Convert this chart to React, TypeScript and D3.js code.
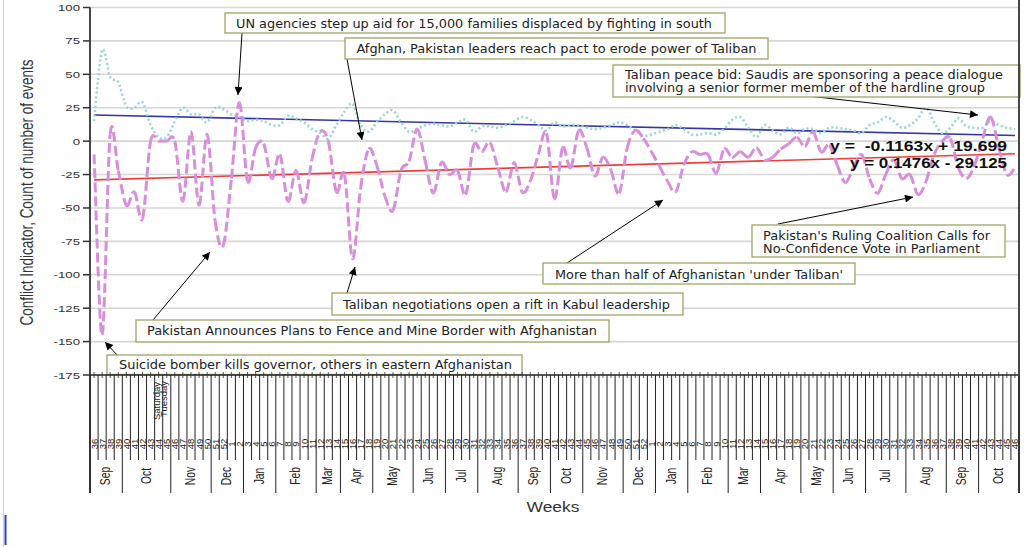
import React from 'react';
import * as d3 from 'd3';

// ---------- data ----------
const months = ['Sep','Oct','Nov','Dec','Jan','Feb','Mar','Apr','May','Jun','Jul','Aug','Sep','Oct','Nov','Dec','Jan','Feb','Mar','Apr','May','Jun','Jul','Aug','Sep','Oct'];
const monthWeeks = [4,6,5,4,4,5,3,4,5,4,4,5,4,4,5,4,4,5,4,5,4,4,5,5,4,5];
const weekLabels: string[] = [...d3.range(36, 53), ...d3.range(1, 53), ...d3.range(1, 47)].map(String);

// Conflict indicator (magenta dashed)
const conflictIndicator = [
  -10,-145,5,-22,-48,-38,-58,0,0,0,
  0,-45,7,-48,5,-60,-78,-28,29,-30,
  -5,-2,-28,-10,-45,-22,-46,-13,7,0,
  -38,-25,-88,-35,-6,-18,-41,-52,-22,-15,
  9,-15,-39,-16,-25,-22,-40,-3,-8,-1,
  -20,-38,-16,-38,-30,-10,6,-43,-5,-20,
  8,-5,-26,-12,-22,-39,-5,8,2,-8,
  -19,-30,-38,-18,-8,-10,-10,-24,-6,-12,
  -8,-12,-5,-14,-12,-6,-2,3,-4,7,
  -8,-3,-18,-31,-20,-10,-28,-39,-25,-14,
  -28,-25,-40,-30,-10,0,2,-20,-28,-18,
  2,18,-5,-25,-20,
];

// Count of number of events (cyan dotted)
const eventCount = [
  15,68,48,44,26,25,29,12,3,3,
  15,25,20,20,14,25,24,20,18,15,
  16,15,12,12,19,17,14,9,6,2,
  12,22,28,12,7,14,20,23,14,7,
  9,12,13,12,11,14,16,7,11,11,
  10,12,15,18,16,12,8,14,11,12,
  12,10,9,10,12,14,12,8,4,5,
  7,9,12,9,5,5,6,5,9,16,
  18,10,3,12,8,5,10,6,9,9,
  6,10,10,9,8,6,12,14,18,15,
  10,12,17,25,14,6,10,17,11,10,
  10,15,12,10,9,
];

const yTicks = [100, 75, 50, 25, 0, -25, -50, -75, -100, -125, -150, -175];
const trendEvents = { slope: -0.1163, intercept: 19.699, label: 'y =  -0.1163x + 19.699' };
const trendConflict = { slope: 0.1476, intercept: -29.125, label: 'y = 0.1476x - 29.125' };
const trendPeriods = 133;

const annotations = [
  { lines: ['UN agencies step up aid for 15,000 families displaced by fighting in south'], box: [225, 13, 500, 20], tx: 236, base: [27.5], widths: [476], arrow: [242, 33, 238, 95] },
  { lines: ['Afghan, Pakistan leaders reach pact to erode power of Taliban'], box: [345, 38, 423, 21], tx: 356.5, base: [52.5], widths: [400], arrow: [347, 59, 362, 140] },
  { lines: ['Taliban peace bid: Saudis are sponsoring a peace dialogue', 'involving a senior former member of the hardline group'], box: [613, 65, 407, 32], tx: 625, base: [79, 91.5], widths: [378, 360], arrow: [808, 96, 978, 115] },
  { lines: ["Pakistan's Ruling Coalition Calls for", 'No-Confidence Vote in Parliament'], box: [752, 225, 253, 32], tx: 763, base: [240, 253], widths: [227, 217], arrow: [778, 224, 913, 197] },
  { lines: ["More than half of Afghanistan 'under Taliban'"], box: [543, 263, 312, 21], tx: 555, base: [279], widths: [288], arrow: [567, 263, 663, 200] },
  { lines: ['Taliban negotiations open a rift in Kabul leadership'], box: [332, 293, 351, 22], tx: 343, base: [309], widths: [327], arrow: [347, 293, 355, 267] },
  { lines: ['Pakistan Announces Plans to Fence and Mine Border with Afghanistan'], box: [136, 320, 473, 22], tx: 147, base: [335], widths: [450], arrow: [153, 320, 210, 252] },
  { lines: ['Suicide bomber kills governor, others in eastern Afghanistan'], box: [107, 355, 415, 19.5], tx: 119, base: [369], widths: [393], arrow: [120, 358, 105, 342] },
];

// ---------- layout ----------
const W = 1033, H = 547;
const L = 90, R = 1019, T = 7.5, B = 375;
const SX = 1.35; // horizontal stretch of the source picture's text
const nWeeks = weekLabels.length;

const x = d3.scaleLinear().domain([0, nWeeks]).range([L, R]);
const y = d3.scaleLinear().domain([-175, 100]).range([B, T]);
const xt = d3.scaleLinear().domain([1, trendPeriods]).range([x(0.5), x(nWeeks - 0.5)]);

const FONT = 'Liberation Sans, Arial, sans-serif';
const AFONT = 'DejaVu Sans, Verdana, sans-serif';

function segments(vals: number[]): string[] {
  const pts = vals.map((v, i) => [x(i + 0.5), y(v)] as [number, number]);
  const out: string[] = [];
  for (let i = 0; i < pts.length - 1; i++) {
    const p0 = pts[Math.max(i - 1, 0)], p1 = pts[i], p2 = pts[i + 1], p3 = pts[Math.min(i + 2, pts.length - 1)];
    const c1 = [p1[0] + (p2[0] - p0[0]) / 6, p1[1] + (p2[1] - p0[1]) / 6];
    const c2 = [p2[0] - (p3[0] - p1[0]) / 6, p2[1] - (p3[1] - p1[1]) / 6];
    const p = d3.path();
    p.moveTo(p1[0], p1[1]);
    p.bezierCurveTo(c1[0], c1[1], c2[0], c2[1], p2[0], p2[1]);
    out.push(p.toString());
  }
  return out;
}

export default function App() {
  const bounds: number[] = [0];
  monthWeeks.forEach((w) => bounds.push(bounds[bounds.length - 1] + w));
  const cyanLine = d3.line<number>().x((_, i) => x(i + 0.5)).y((v) => y(v)).curve(d3.curveCardinal.tension(0))(eventCount) || '';
  const magSegs = segments(conflictIndicator);
  const trendPath = (t: { slope: number; intercept: number }) =>
    d3.line<number>().x((v) => xt(v)).y((v) => y(t.slope * v + t.intercept))([1, trendPeriods]) || '';

  return (
    <svg width={W} height={H} style={{ position: 'absolute', left: 0, top: 0, background: '#fff' }}>
      <defs>
        <marker id="ah" viewBox="0 0 10 10" refX="10" refY="5" markerWidth="9" markerHeight="8" markerUnits="userSpaceOnUse" orient="auto">
          <path d="M0,0 L10,5 L0,10 z" fill="#000" />
        </marker>
      </defs>
      <rect x={0} y={0} width={W} height={H} fill="#fff" />
      <line x1={3.5} x2={3.5} y1={0} y2={H} stroke="#d0d0d0" strokeWidth={1} />

      {/* gridlines */}
      {yTicks.filter((t) => t !== -175).map((t) => (
        <line key={t} x1={L} x2={R} y1={y(t)} y2={y(t)} stroke="#d6d6d6" strokeWidth={1.6} />
      ))}

      {/* trend lines */}
      <path d={trendPath(trendEvents)} fill="none" stroke="#3535a5" strokeWidth={1.6} />
      <path d={trendPath(trendConflict)} fill="none" stroke="#f03c3c" strokeWidth={1.6} />

      {/* series */}
      <path d={cyanLine} fill="none" stroke="#97d4dc" strokeWidth={2.6} strokeDasharray="2 2.6" />
      {magSegs.map((d, i) => (
        <path key={i} d={d} fill="none" stroke="#d88edb" strokeWidth={3} strokeDasharray="10 4" />
      ))}

      {/* trend equations */}
      <text x={830} y={151} fontFamily={FONT} fontWeight="bold" fontSize={15} fill="#111" textLength={177} lengthAdjust="spacingAndGlyphs" style={{ whiteSpace: 'pre' }}>{trendEvents.label}</text>
      <text x={850} y={168} fontFamily={FONT} fontWeight="bold" fontSize={15} fill="#111" textLength={157} lengthAdjust="spacingAndGlyphs" style={{ whiteSpace: 'pre' }}>{trendConflict.label}</text>

      {/* annotations */}
      {annotations.map((a, k) => (
        <g key={k}>
          <line x1={a.arrow[0]} y1={a.arrow[1]} x2={a.arrow[2]} y2={a.arrow[3]} stroke="#000" strokeWidth={1} markerEnd="url(#ah)" />
          <rect x={a.box[0]} y={a.box[1]} width={a.box[2]} height={a.box[3]} fill="#fff" stroke="#a2a266" strokeWidth={1.3} />
          {a.lines.map((ln, j) => (
            <text key={j} x={a.tx} y={a.base[j]} fontFamily={AFONT} fontSize={11.4} fill="#222" textLength={a.widths[j]} lengthAdjust="spacingAndGlyphs">{ln}</text>
          ))}
        </g>
      ))}

      {/* y axis */}
      <line x1={L} x2={L} y1={T} y2={493} stroke="#333" strokeWidth={1.8} />
      {yTicks.map((t) => (
        <g key={t}>
          <line x1={83} x2={L} y1={y(t)} y2={y(t)} stroke="#333" strokeWidth={1.5} />
          <text transform={`translate(80,${y(t)}) scale(${SX},1)`} dy="0.36em" textAnchor="end" fontFamily={FONT} fontSize={9.8} fill="#333">{t}</text>
        </g>
      ))}
      <text transform="translate(33,192.5) scale(1.3,1) rotate(-90)" textAnchor="middle" fontFamily={FONT} fontSize={13.5} fill="#333">Conflict Indicator, Count of number of events</text>

      {/* x axis */}
      <line x1={L} x2={R} y1={B} y2={B} stroke="#222" strokeWidth={1.5} />
      <line x1={R} x2={R} y1={0} y2={493} stroke="#333" strokeWidth={1.8} />
      {d3.range(0, nWeeks + 1).map((i) => (
        <line key={'w' + i} x1={x(i)} x2={x(i)} y1={B} y2={bounds.includes(i) ? 493 : 460} stroke="#222" strokeWidth={1} />
      ))}
      {weekLabels.map((w, i) => (
        <line key={'t' + i} x1={x(i + 0.5)} x2={x(i + 0.5)} y1={372} y2={378} stroke="#333" strokeWidth={0.8} />
      ))}
      {weekLabels.map((w, i) => (
        <text key={'l' + i} transform={`translate(${x(i + 0.5) + 3.5},444) rotate(-90)`} textAnchor="middle" fontFamily={FONT} fontSize={9.5} fill="#222">{w}</text>
      ))}
      <text transform="translate(160,401) rotate(-90)" textAnchor="middle" fontFamily={FONT} fontSize={9.5} fill="#222">Saturday</text>
      <text transform="translate(167,399) rotate(-90)" textAnchor="middle" fontFamily={FONT} fontSize={9.5} fill="#222">Tuesday</text>
      {months.map((m, k) => (
        <text key={'m' + k} transform={`translate(${x((bounds[k] + bounds[k + 1]) / 2) + 4},476) scale(${SX},1) rotate(-90)`} textAnchor="middle" fontFamily={FONT} fontSize={10.3} fill="#222">{m}</text>
      ))}
      <text x={553} y={512} textAnchor="middle" fontFamily={FONT} fontSize={14} fill="#333" textLength={53} lengthAdjust="spacingAndGlyphs">Weeks</text>

      {/* cropped top edge and cursor mark */}
      <rect x={40} y={0} width={48} height={5} fill="#fff" />
      <line x1={5.5} x2={5.5} y1={515} y2={545} stroke="#2f3fd0" strokeWidth={2} />
    </svg>
  );
}
